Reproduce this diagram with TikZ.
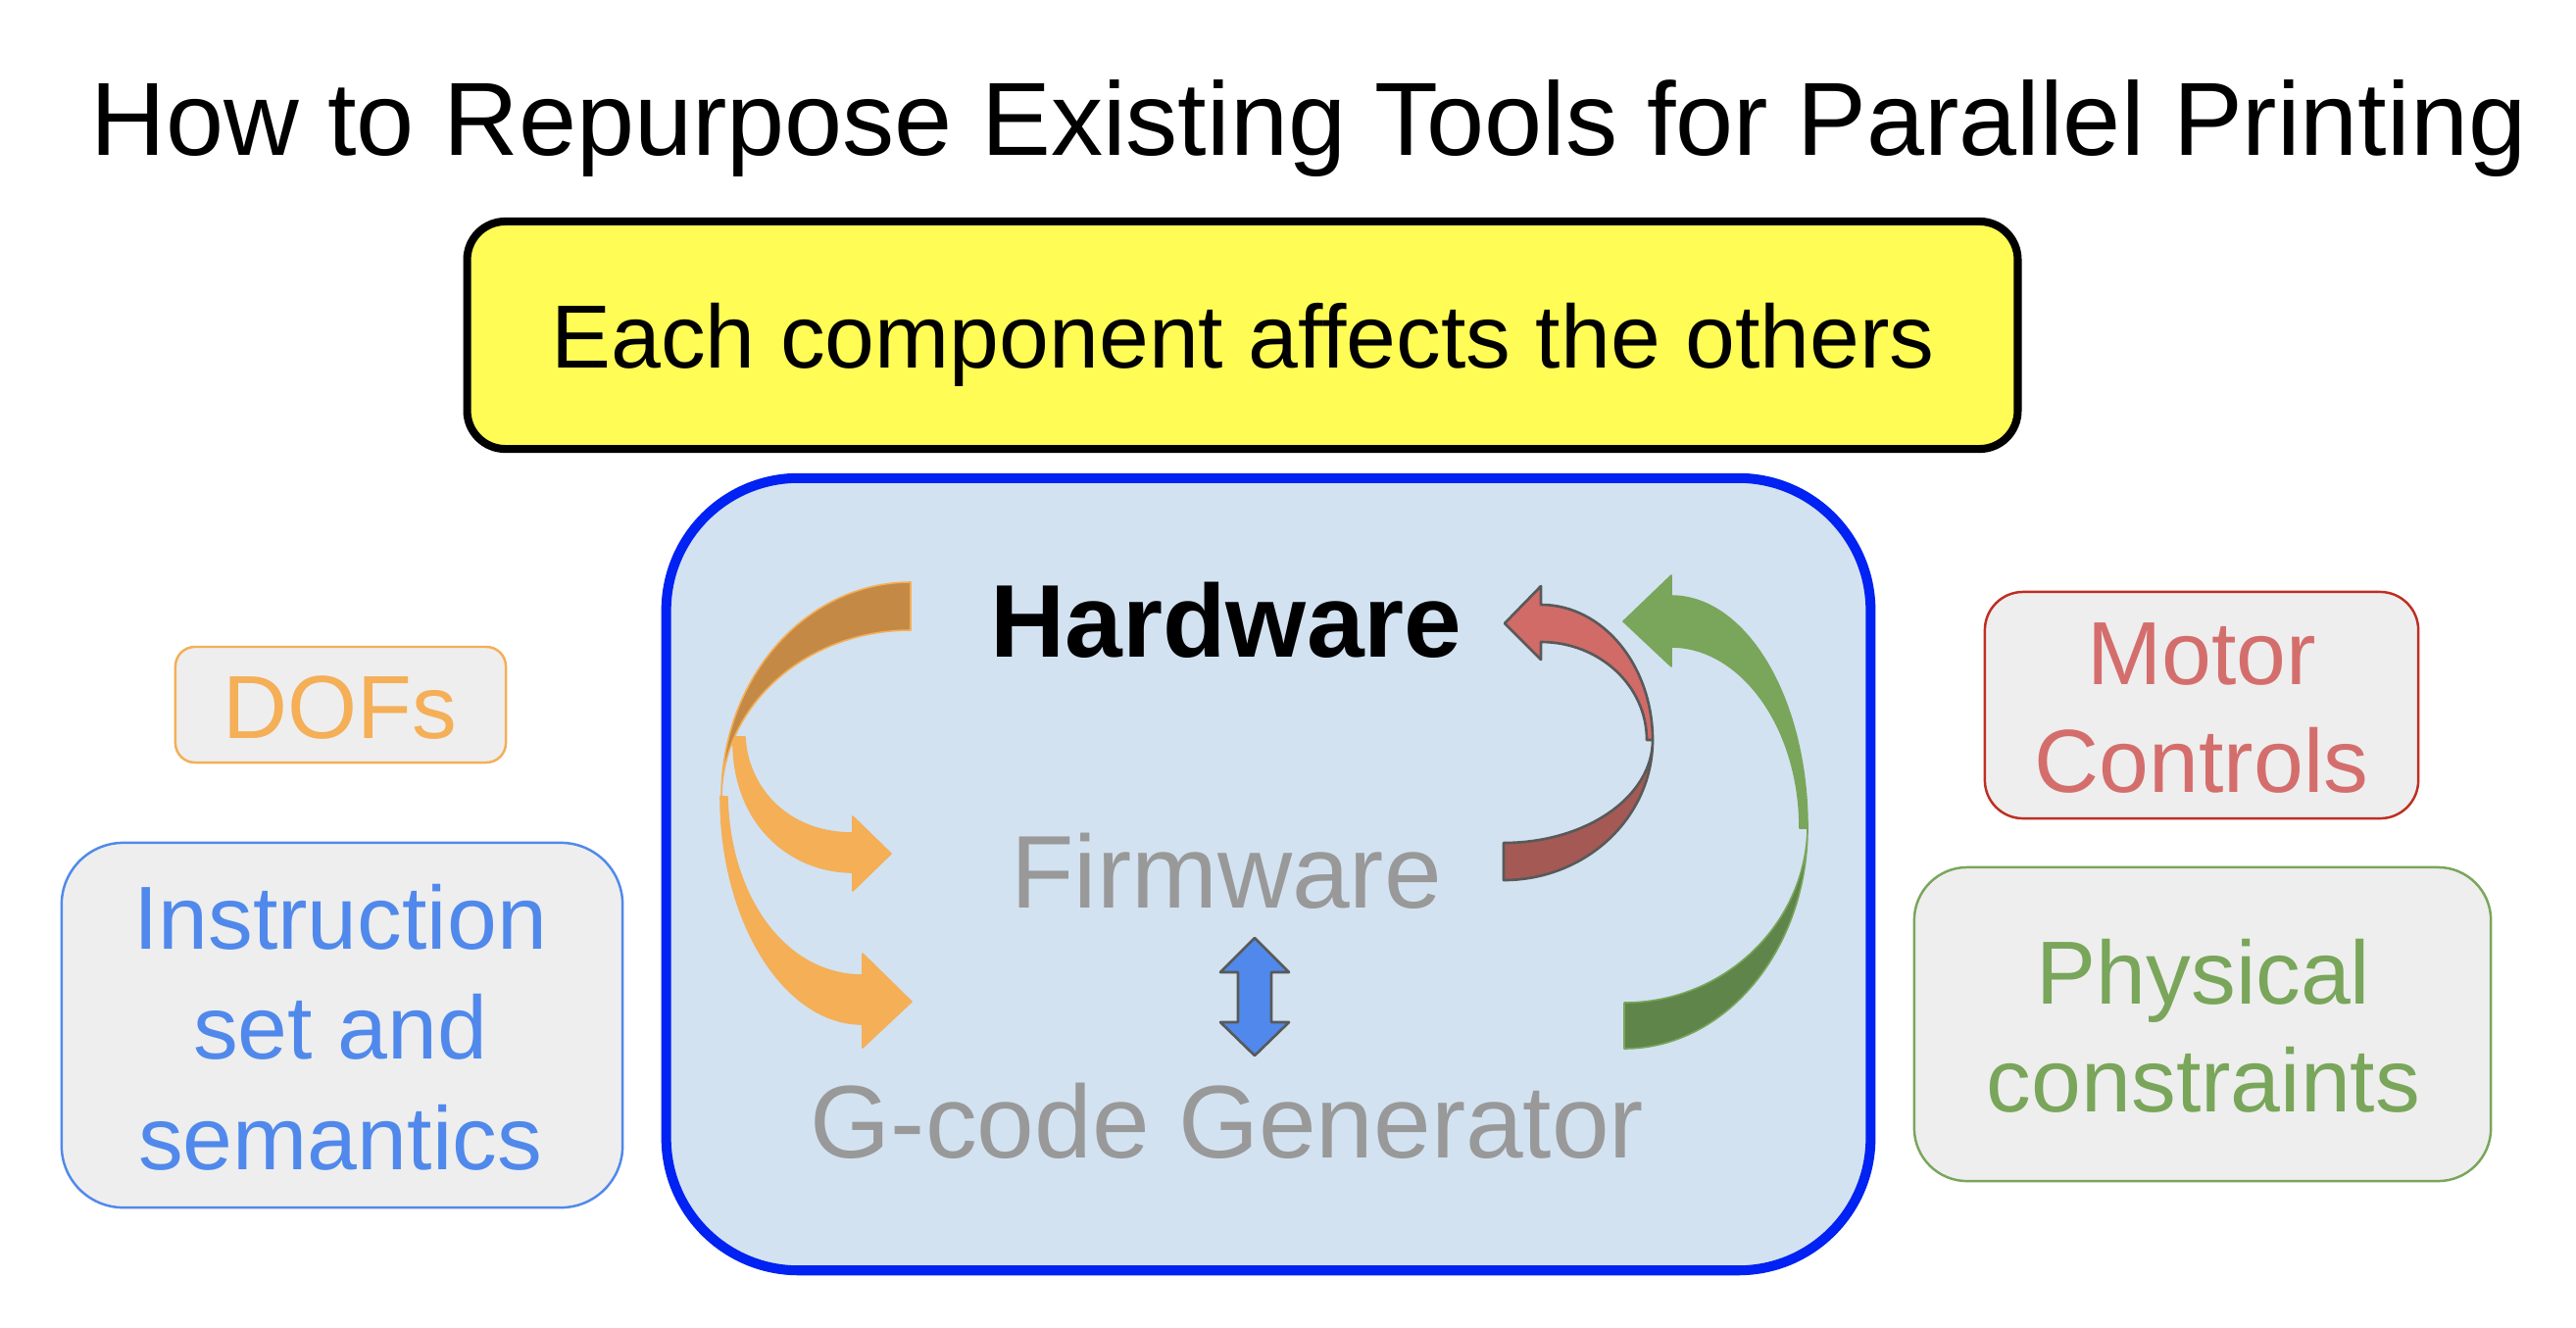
\documentclass[tikz,border=0pt]{standalone}
\usepackage{fontspec}
\setmainfont{Liberation Sans}
\definecolor{yel}{HTML}{FFFD55}
\definecolor{bluestroke}{HTML}{0022F2}
\definecolor{bluefill}{HTML}{D2E2F1}
\definecolor{graytxt}{HTML}{999999}
\definecolor{boxgray}{HTML}{EEEEEE}
\definecolor{orangec}{HTML}{F4AF57}
\definecolor{orangedark}{HTML}{C48A45}
\definecolor{instblue}{HTML}{5089EB}
\definecolor{motortxt}{HTML}{D46E6C}
\definecolor{motorline}{HTML}{BF2E22}
\definecolor{redfront}{HTML}{D16B67}
\definecolor{reddark}{HTML}{A55954}
\definecolor{outline}{HTML}{595959}
\definecolor{greenc}{HTML}{79A65A}
\definecolor{greendark}{HTML}{60854A}
\begin{document}
\begin{tikzpicture}[x=0.01cm,y=-0.01cm,
  bigfont/.style={font=\fontsize{30}{36}\selectfont, inner sep=0pt, anchor=base},
  medfont/.style={font=\fontsize{26}{31.3}\selectfont, inner sep=0pt, anchor=base},
  sidebox/.style={fill=boxgray, line width=0.7pt, inner sep=0pt},
  orangeshape/.style={fill=orangec, draw=orangec, line width=0.45pt, line join=round},
  greenshape/.style={draw=greenc, line width=0.45pt, line join=round},
  redshape/.style={draw=outline, line width=0.75pt, line join=round}]
\useasboundingbox (0,0) rectangle (2628,1354);
\fill[white] (0,0) rectangle (2628,1354);

% title
\node[bigfont, font=\fontsize{30.2}{36}\selectfont] (title) at (1335,158) {How to Repurpose Existing Tools for Parallel Printing};

% yellow banner
\node[draw=black, line width=2.3pt, fill=yel, rounded corners=0.39cm,
  minimum width=15.81cm, minimum height=2.32cm, inner sep=0pt] (banner) at (1267.5,342) {};
\node[medfont] (bannertxt) at (1268,375) {Each component affects the others};

% main blue box
\node[draw=bluestroke, line width=2.85pt, fill=bluefill, rounded corners=1.35cm,
  minimum width=12.28cm, minimum height=8.08cm, inner sep=0pt] (mainbox) at (1294,892) {};

% side boxes
\node[sidebox, draw=orangec, rounded corners=0.2cm, minimum width=3.37cm, minimum height=1.18cm] (dofbox) at (347.5,719) {};
\node[medfont, text=orangec] (doftxt) at (347,753) {DOFs};

\node[sidebox, draw=instblue, rounded corners=0.63cm, minimum width=5.72cm, minimum height=3.72cm] (instbox) at (349,1046) {};
\node[medfont, text=instblue, font=\fontsize{26}{32}\selectfont] (insttxt) at (347,968)
  {\begin{tabular}[t]{@{}c@{}}Instruction\\set and\\semantics\end{tabular}};

\node[sidebox, draw=motorline, rounded corners=0.39cm, minimum width=4.42cm, minimum height=2.31cm] (motorbox) at (2246,719.5) {};
\node[medfont, text=motortxt] (motorlbl) at (2246,698)
  {\begin{tabular}[t]{@{}c@{}}Motor\\Controls\end{tabular}};

\node[sidebox, draw=greenc, rounded corners=0.54cm, minimum width=5.88cm, minimum height=3.20cm] (physbox) at (2247,1045) {};
\node[medfont, text=greenc] (physlbl) at (2248,1024)
  {\begin{tabular}[t]{@{}c@{}}Physical\\constraints\end{tabular}};

% orange arrows (front faces)
\path[orangeshape] (748,752) .. controls (746,840) and (806,890) .. (870,890)
  -- (870,909) -- (909,871) -- (870,833) -- (870,850)
  .. controls (800,850) and (762,800) .. (760,752) -- cycle;
\path[orangeshape] (735,813) .. controls (735,940) and (800,1045) .. (880,1045)
  -- (880,1069) -- (930,1022) -- (880,973) -- (880,995)
  .. controls (800,995) and (744,914) .. (742,813) -- cycle;
% orange back face
\path[orangeshape, fill=orangedark] (929,594) .. controls (822,594) and (736,692) .. (736,813)
  .. controls (737,719) and (823,643) .. (929,643) -- cycle;

% red arrow
\path[redshape, fill=redfront] (1686,755) .. controls (1686,679) and (1635,617) .. (1572,617)
  -- (1572,598) -- (1535,636) -- (1572,673) -- (1572,655)
  .. controls (1632,655) and (1680,700) .. (1680,755) -- cycle;
\path[redshape, fill=reddark] (1534,898) .. controls (1618,898) and (1686,834) .. (1686,755)
  .. controls (1686,813) and (1618,860) .. (1534,860) -- cycle;

% green arrow
\path[greenshape, fill=greenc] (1844,845) .. controls (1844,712) and (1781,608) .. (1705,608)
  -- (1705,587) -- (1656,634) -- (1705,680) -- (1705,660)
  .. controls (1776,660) and (1836,742) .. (1836,845) -- cycle;
\path[greenshape, fill=greendark] (1657,1070) .. controls (1760,1070) and (1844,969) .. (1844,845)
  .. controls (1842,943) and (1759,1023) .. (1657,1023) -- cycle;

% double arrow
\path[redshape, fill=instblue] (1280,957) -- (1315,992) -- (1297,992) -- (1297,1043) -- (1315,1043)
  -- (1280,1077) -- (1245,1043) -- (1263,1043) -- (1263,992) -- (1245,992) -- cycle;

% inner labels
\node[bigfont, font=\fontsize{30}{36}\selectfont\bfseries] (hw) at (1251,670) {Hardware};
\node[bigfont, text=graytxt] (fw) at (1251,926) {Firmware};
\node[bigfont, text=graytxt] (gc) at (1252,1181) {G-code Generator};
\end{tikzpicture}
\end{document}
